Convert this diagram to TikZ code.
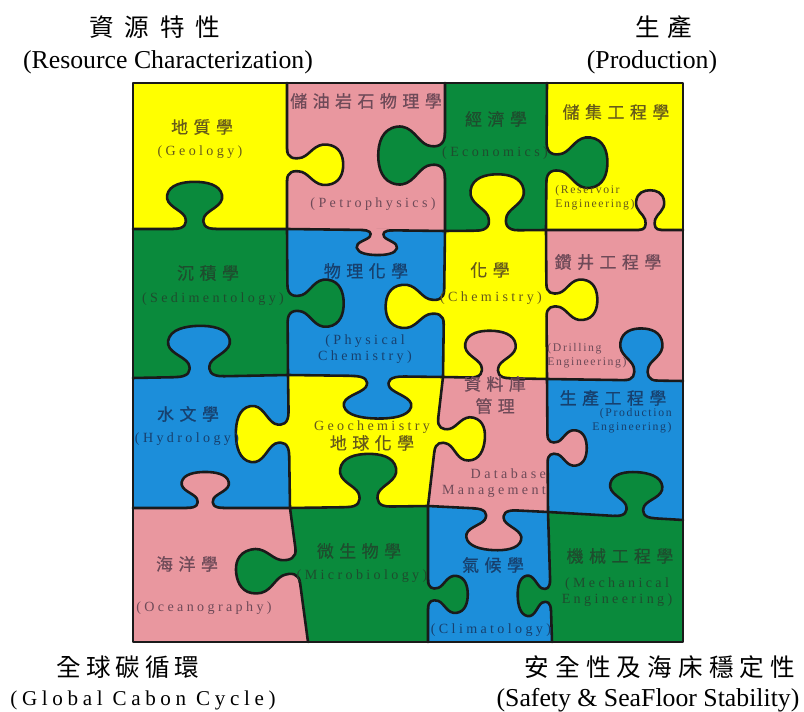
\documentclass[tikz,border=0pt]{standalone}
\usepackage{fontspec}
\usetikzlibrary{calc}
\newfontfamily\cjk[LetterSpace=32,FakeBold=0.6]{Noto Sans CJK TC}
\newfontfamily\cjkhd{Noto Sans CJK TC}
\newfontfamily\lab[LetterSpace=24]{Liberation Serif}
\newfontfamily\labsm[LetterSpace=14]{Liberation Serif}
\newfontfamily\hdr{Liberation Serif}
\newfontfamily\hdrsp[LetterSpace=22]{Liberation Serif}

\definecolor{cY}{HTML}{FFFF00}
\definecolor{cP}{HTML}{E9979F}
\definecolor{cG}{HTML}{0A8A3C}
\definecolor{cB}{HTML}{1C8EDA}
\definecolor{tY}{HTML}{665A1A}
\definecolor{tP}{HTML}{6E4A58}
\definecolor{tG}{HTML}{1E4D2E}
\definecolor{tB}{HTML}{17406E}
\definecolor{ink}{HTML}{1A1A1A}

\tikzset{
  edge/.style={line width=2.2pt, line join=round, line cap=round, draw=ink},
  zh/.style={font=\cjk\fontsize{14.5}{19}\selectfont, inner sep=0pt, align=center},
  en/.style={font=\lab\fontsize{12}{14}\selectfont, inner sep=0pt, align=center},
  ensm/.style={font=\labsm\fontsize{10}{12}\selectfont, inner sep=0pt},
  hdzh/.style={font=\cjkhd\fontsize{21}{24}\selectfont, inner sep=0pt},
  hden/.style={font=\hdr\fontsize{22}{24}\selectfont, inner sep=0pt},
  % one puzzle tab: base on the local u axis, bulging towards +v
  pics/knob/.style n args={3}{code={
    \begin{scope}[xscale=#2,yscale=#3]
      \fill[#1] (-22,-4) -- (-22,0)
        .. controls (-10,0) and (-7,6) .. (-10,14)
        .. controls (-14,22) and (-30,26) .. (-28,38)
        .. controls (-26,50) and (-12,53) .. (0,53)
        .. controls (12,53) and (26,50) .. (28,38)
        .. controls (30,26) and (14,22) .. (10,14)
        .. controls (7,6) and (10,0) .. (22,0) -- (22,-4) -- cycle;
      \draw[edge] (-22,0)
        .. controls (-10,0) and (-7,6) .. (-10,14)
        .. controls (-14,22) and (-30,26) .. (-28,38)
        .. controls (-26,50) and (-12,53) .. (0,53)
        .. controls (12,53) and (26,50) .. (28,38)
        .. controls (30,26) and (14,22) .. (10,14)
        .. controls (7,6) and (10,0) .. (22,0);
    \end{scope}
  }},
}
% tab on the edge from #1 to #2 at fraction #3, colour #4, width #5, depth #6;
% it bulges to the right of the direction of travel
\newcommand\pztab[6]{%
  \path let \p1=($(#2)-(#1)$), \n1={atan2(\y1,\x1)} in
    ($(#1)!#3!(#2)$) pic[rotate=\n1]{knob={#4}{#5}{#6}};}

\begin{document}
\begin{tikzpicture}[x=0.03cm,y=-0.03cm]
\useasboundingbox (0,0) rectangle (804,712);

% grid corners
\coordinate (v00) at (133,83);  \coordinate (v10) at (287,83);  \coordinate (v20) at (445,83);  \coordinate (v30) at (547,83);  \coordinate (v40) at (683,83);
\coordinate (v01) at (133,229); \coordinate (v11) at (287,229); \coordinate (v21) at (445,231); \coordinate (v31) at (546,230); \coordinate (v41) at (683,230);
\coordinate (v02) at (133,378); \coordinate (v12) at (288,375); \coordinate (v22) at (443,377); \coordinate (v32) at (547,379); \coordinate (v42) at (683,381);
\coordinate (v03) at (133,508); \coordinate (v13) at (290,508); \coordinate (v23) at (428,506); \coordinate (v33) at (548,512); \coordinate (v43) at (683,520);
\coordinate (v04) at (133,642); \coordinate (v14) at (308,642); \coordinate (v24) at (428,642); \coordinate (v34) at (552,642); \coordinate (v44) at (683,642);

% pieces
\fill[cY] (v00)--(v10)--(v11)--(v01)--cycle;
\fill[cP] (v10)--(v20)--(v21)--(v11)--cycle;
\fill[cG] (v20)--(v30)--(v31)--(v21)--cycle;
\fill[cY] (v30)--(v40)--(v41)--(v31)--cycle;
\fill[cG] (v01)--(v11)--(v12)--(v02)--cycle;
\fill[cB] (v11)--(v21)--(v22)--(v12)--cycle;
\fill[cY] (v21)--(v31)--(v32)--(v22)--cycle;
\fill[cP] (v31)--(v41)--(v42)--(v32)--cycle;
\fill[cB] (v02)--(v12)--(v13)--(v03)--cycle;
\fill[cY] (v12)--(v22)--(v23)--(v13)--cycle;
\fill[cP] (v22)--(v32)--(v33)--(v23)--cycle;
\fill[cB] (v32)--(v42)--(v43)--(v33)--cycle;
\fill[cP] (v03)--(v13)--(v14)--(v04)--cycle;
\fill[cG] (v13)--(v23)--(v24)--(v14)--cycle;
\fill[cB] (v23)--(v33)--(v34)--(v24)--cycle;
\fill[cG] (v33)--(v43)--(v44)--(v34)--cycle;

% seams
\draw[edge] (v01)--(v11)--(v21)--(v31)--(v41);
\draw[edge] (v02)--(v12)--(v22)--(v32)--(v42);
\draw[edge] (v03)--(v13)--(v23)--(v33)--(v43);
\draw[edge] (v10)--(v11)--(v12)--(v13)--(v14);
\draw[edge] (v20)--(v21)--(v22)--(v23)--(v24);
\draw[edge] (v30)--(v31)--(v32)--(v33)--(v34);
\draw[edge] (v00) rectangle (v44);

% tabs across vertical seams
\pztab{v11}{v10}{0.44}{cY}{0.72}{1.06}
\pztab{v20}{v21}{0.49}{cG}{1.03}{1.26}
\pztab{v31}{v30}{0.46}{cG}{0.90}{1.15}
\pztab{v12}{v11}{0.49}{cG}{0.84}{1.06}
\pztab{v21}{v22}{0.52}{cY}{0.77}{1.10}
\pztab{v32}{v31}{0.53}{cY}{0.72}{0.96}
\pztab{v12}{v13}{0.44}{cY}{1.00}{1.00}
\pztab{v23}{v22}{0.55}{cY}{0.77}{0.92}
\pztab{v33}{v32}{0.48}{cP}{0.63}{0.74}
\pztab{v13}{v14}{0.43}{cG}{0.79}{1.17}
\pztab{v24}{v23}{0.35}{cG}{0.66}{0.75}
\pztab{v33}{v34}{0.64}{cG}{0.72}{0.62}
% tabs across horizontal seams
\pztab{v11}{v01}{0.60}{cG}{0.98}{0.89}
\pztab{v11}{v21}{0.57}{cP}{0.72}{0.47}
\pztab{v31}{v21}{0.48}{cY}{0.95}{1.06}
\pztab{v41}{v31}{0.24}{cP}{0.50}{0.75}
\pztab{v12}{v02}{0.57}{cB}{1.10}{0.96}
\pztab{v12}{v22}{0.58}{cB}{1.20}{0.80}
\pztab{v32}{v22}{0.55}{cP}{0.90}{0.89}
\pztab{v42}{v32}{0.31}{cB}{0.75}{0.98}
\pztab{v13}{v03}{0.54}{cP}{0.84}{0.68}
\pztab{v23}{v13}{0.43}{cG}{1.00}{1.00}
\pztab{v23}{v33}{0.56}{cP}{0.98}{0.77}
\pztab{v43}{v33}{0.36}{cG}{0.93}{0.85}

% piece labels
\node[zh,text=tY] (t1) at (202,127) {地質學};
\node[en,text=tY] (e1) at (200,152) {(Geology)};
\node[zh,text=tP] (t2) at (366,101) {儲油岩石物理學};
\node[en,text=tP] (e2) at (373,204) {(Petrophysics)};
\node[zh,text=tG] (t3) at (496,119) {經濟學};
\node[en,text=tG] (e3) at (495,153) {(Economics)};
\node[zh,text=tY] (t4) at (616,112) {儲集工程學};
\node[ensm,text=tY,align=left] (e4) at (595,198) {(Reservoir\\Engineering)};
\node[zh,text=tG] (t5) at (208,273) {沉積學};
\node[en,text=tG] (e5) at (213,299) {(Sedimentology)};
\node[zh,text=tB] (t6) at (366,271) {物理化學};
\node[en,text=tB] (e6) at (365,349) {(Physical\\Chemistry)};
\node[zh,text=tY] (t7) at (490,270) {化學};
\node[en,text=tY] (e7) at (491,298) {(Chemistry)};
\node[zh,text=tP] (t8) at (608,262) {鑽井工程學};
\node[ensm,text=tP,align=left] (e8) at (587,356) {(Drilling\\Engineering)};
\node[zh,text=tB] (t9) at (188,414) {水文學};
\node[en,text=tB] (e9) at (187,439) {(Hydrology)};
\node[en,text=tY] (e10) at (372,427) {Geochemistry};
\node[zh,text=tY] (t10) at (372,443) {地球化學};
\node[zh,text=tP] (t11) at (495,395) {資料庫\\管理};
\node[en,text=tP,align=right] (e11) at (494,483) {Database\\Management};
\node[zh,text=tB] (t12) at (613,398) {生產工程學};
\node[ensm,text=tB,align=right] (e12) at (632,421) {(Production\\Engineering)};
\node[zh,text=tP] (t13) at (187,564) {海洋學};
\node[en,text=tP] (e13) at (204,608) {(Oceanography)};
\node[zh,text=tG] (t14) at (359,551) {微生物學};
\node[en,text=tG] (e14) at (362,576) {(Microbiology)};
\node[zh,text=tB] (t15) at (493,565) {氣候學};
\node[en,text=tB] (e15) at (491,630) {(Climatology)};
\node[zh,text=tG] (t16) at (620,556) {機械工程學};
\node[en,text=tG] (e16) at (617,592) {(Mechanical\\Engineering)};

% corner headings
\node[hdzh] (h1) at (155,27) {\addfontfeature{LetterSpace=44}資源特性};
\node[hden] (h1e) at (168,62) {(Resource Characterization)};
\node[hdzh] (h2) at (664,27) {\addfontfeature{LetterSpace=32}生產};
\node[hden] (h2e) at (652,62) {(Production)};
\node[hdzh] (h3) at (128,667) {\addfontfeature{LetterSpace=20}全球碳循環};
\node[font=\hdrsp\fontsize{18}{20}\selectfont, inner sep=0pt] (h3e) at (143,700) {(Global Cabon Cycle)};
\node[hdzh] (h4) at (660,667) {\addfontfeature{LetterSpace=25}安全性及海床穩定性};
\node[hden] (h4e) at (648,700) {(Safety \& SeaFloor Stability)};
\end{tikzpicture}
\end{document}
